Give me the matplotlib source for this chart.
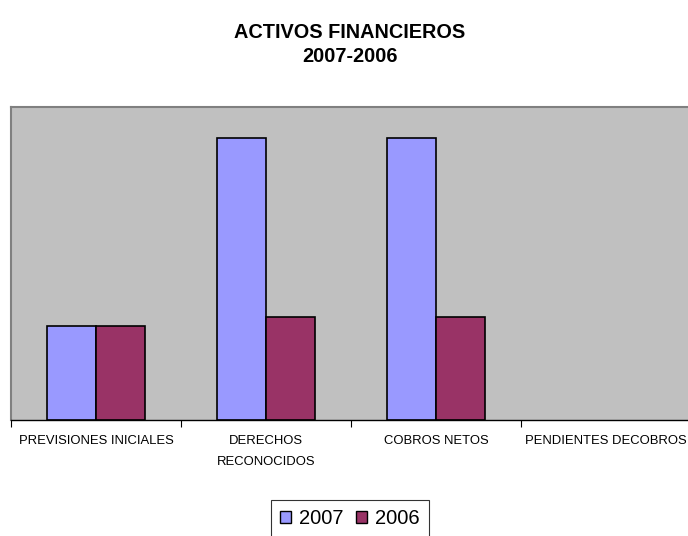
import matplotlib.pyplot as plt
import numpy as np
from matplotlib.patches import Patch

plt.rcParams["font.family"] = ["Liberation Sans", "DejaVu Sans"]

# Chart data (relative values)
categories = ["PREVISIONES INICIALES", "DERECHOS\nRECONOCIDOS", "COBROS NETOS", "PENDIENTES DECOBROS"]
values_2007 = [30, 90, 90, 0]
values_2006 = [30, 33, 33, 0]
series_names = ["2007", "2006"]
colors = ["#9999FF", "#993366"]

fig = plt.figure(figsize=(6.88, 5.36), dpi=100)
ax = fig.add_axes([11 / 688, (536 - 420) / 536, 680 / 688, 313 / 536])

x = np.arange(len(categories))
width = 0.29
for offset, vals, c in [(-width / 2, values_2007, colors[0]), (width / 2, values_2006, colors[1])]:
    lw = [1.2 if v > 0 else 0 for v in vals]
    ax.bar(x + offset, vals, width, color=c, edgecolor="black", linewidth=lw)

ax.set_xlim(-0.5, len(categories) - 0.5)
ax.set_ylim(0, 100)
ax.set_facecolor("#C0C0C0")
ax.set_yticks([])

# ticks at category boundaries, labels at centers
ax.set_xticks(np.arange(len(categories) + 1) - 0.5)
ax.set_xticklabels([])
ax.tick_params(axis="x", length=5, width=0.8, color="black")
for xi, label in zip(x, categories):
    ax.text(xi, -4.8, label, ha="center", va="top", fontsize=9.4, linespacing=2.05,
            transform=ax.transData, clip_on=False)

ax.spines["left"].set_color("#808080")
ax.spines["left"].set_linewidth(1.5)
ax.spines["top"].set_color("#808080")
ax.spines["top"].set_linewidth(1.5)
ax.spines["right"].set_visible(False)
ax.spines["bottom"].set_color("black")
ax.spines["bottom"].set_linewidth(1.0)

fig.text(350 / 688, 1 - 32 / 536, "ACTIVOS FINANCIEROS", ha="center", va="center",
         fontsize=14.3, fontweight="bold")
fig.text(350 / 688, 1 - 57 / 536, "2007-2006", ha="center", va="center",
         fontsize=14.3, fontweight="bold")

handles = [Patch(facecolor=c, edgecolor="black", linewidth=1.0) for c in colors]
leg = fig.legend(handles, series_names, loc="center", bbox_to_anchor=(350 / 688, 1 - 519 / 536),
                 ncol=2, fontsize=14.5, frameon=True, fancybox=False, handlelength=0.55,
                 handleheight=0.55, handletextpad=0.4, columnspacing=0.6, borderpad=0.45,
                 borderaxespad=0)
leg.get_frame().set_edgecolor("black")
leg.get_frame().set_linewidth(0.8)

fig.savefig("out.png", dpi=100)
